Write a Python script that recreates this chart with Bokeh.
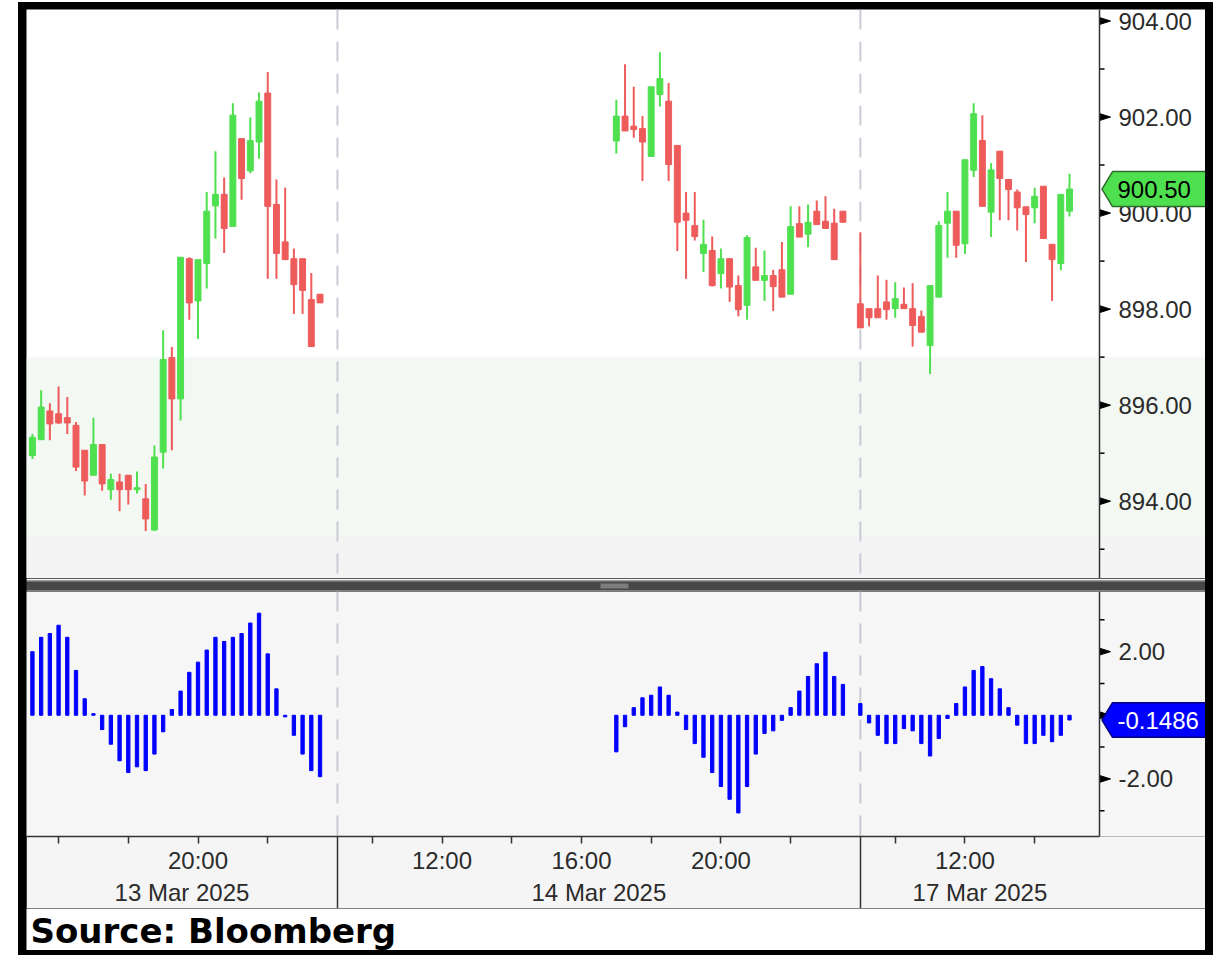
import numpy as np
from bokeh.plotting import figure
from bokeh.models import (ColumnDataSource, FixedTicker, LinearAxis, BoxAnnotation,
                          Span, Range1d, Label)
from bokeh.layouts import column
from bokeh.core.properties import value
from bokeh.embed import file_html
from bokeh.resources import INLINE

# ---------------- data ----------------
session_dates = ["13 Mar 2025", "14 Mar 2025", "17 Mar 2025"]
session_first_bar = ["15:15", "17:00", "09:00"]
day_start_hour = 9          # every day on the axis runs 09:00 - 24:00
day_end_hour = 24
bar_minutes = 15

open_13 = [894.95, 895.28, 895.88, 895.82, 895.74, 895.58, 895.06, 894.54, 895.18, 894.24,
           894.40, 894.54, 894.24, 894.05, 893.40, 895.02, 896.99, 896.13, 899.05, 898.17,
           898.95, 900.15, 900.39, 899.72, 901.55, 900.88, 901.48, 902.50, 900.18, 899.40,
           899.05, 899.05, 898.20, 898.31]
high_13 = [895.40, 896.31, 896.04, 896.39, 896.17, 895.65, 895.06, 895.74, 895.18, 894.57,
           894.57, 894.54, 894.62, 894.36, 895.16, 897.56, 897.21, 899.08, 899.08, 899.03,
           900.44, 901.29, 900.74, 902.29, 901.55, 901.99, 902.51, 902.94, 900.70, 900.53,
           899.26, 899.05, 898.75, 898.31]
low_13 = [894.88, 895.28, 895.27, 895.61, 895.40, 894.63, 894.12, 894.54, 894.22, 894.03,
          893.79, 893.93, 894.16, 893.38, 893.38, 894.68, 895.06, 895.68, 897.78, 897.38,
          898.43, 899.47, 899.17, 899.72, 900.28, 900.83, 901.13, 898.63, 898.63, 899.03,
          897.90, 897.90, 897.22, 898.13]
close_13 = [895.33, 895.96, 895.61, 895.63, 895.63, 894.71, 894.42, 895.18, 894.36, 894.45,
            894.24, 894.24, 894.28, 893.63, 894.92, 896.95, 896.13, 899.08, 898.13, 899.03,
            900.04, 900.39, 899.68, 902.04, 900.72, 901.51, 902.33, 900.14, 899.16, 899.03,
            898.51, 898.39, 897.22, 898.13]

open_14 = [901.50, 902.02, 901.81, 901.76, 901.18, 902.47, 902.33, 901.41, 900.00, 899.74,
           899.16, 899.22, 898.74, 899.05, 898.49, 898.08, 898.88, 898.60, 898.70, 898.82,
           898.31, 899.78, 899.56, 900.04, 899.83, 899.79, 900.04]
high_14 = [902.36, 903.10, 902.63, 902.02, 902.63, 903.35, 902.71, 901.41, 900.44, 900.44,
           899.86, 899.51, 899.26, 899.05, 898.70, 899.54, 899.28, 899.22, 898.82, 899.40,
           900.14, 900.14, 900.18, 900.26, 900.35, 900.09, 900.04]
low_14 = [901.24, 901.71, 901.57, 900.67, 901.18, 902.22, 900.67, 899.21, 898.63, 899.43,
          898.77, 898.47, 898.43, 898.15, 897.85, 897.78, 898.60, 898.17, 897.96, 898.25,
          898.31, 899.50, 899.29, 899.76, 899.68, 899.03, 899.81]
close_14 = [902.02, 901.71, 901.74, 901.48, 902.63, 902.80, 901.01, 899.81, 899.85, 899.51,
            899.35, 898.49, 899.05, 898.46, 897.99, 899.49, 898.60, 898.70, 898.47, 898.25,
            899.72, 899.50, 899.81, 899.76, 899.68, 899.03, 899.81]

open_17 = [898.11, 898.01, 898.01, 898.15, 898.01, 898.10, 898.01, 897.85, 897.24, 898.25,
           899.79, 900.04, 899.36, 900.89, 901.51, 900.02, 901.29, 900.70, 900.44, 900.13,
           900.11, 900.56, 899.35, 898.95, 900.04]
high_17 = [899.60, 898.01, 898.70, 898.61, 898.56, 898.45, 898.54, 897.97, 898.49, 899.83,
           900.44, 900.04, 901.11, 902.29, 902.04, 901.04, 901.29, 900.70, 900.49, 900.13,
           900.53, 900.56, 899.35, 900.39, 900.82]
low_17 = [897.61, 897.64, 897.82, 897.78, 897.82, 898.01, 897.22, 897.52, 896.65, 898.25,
          899.07, 899.07, 899.15, 900.75, 900.14, 899.50, 899.85, 899.85, 899.64, 898.98,
          899.79, 899.47, 898.17, 898.81, 899.93]
close_17 = [897.61, 897.82, 897.82, 897.99, 898.22, 898.01, 897.66, 897.52, 898.49, 899.74,
            900.04, 899.33, 901.11, 902.07, 900.14, 900.90, 900.72, 900.49, 900.11, 899.97,
            900.35, 899.47, 899.03, 900.39, 900.50]

hist_13 = [2.00, 2.45, 2.57, 2.83, 2.45, 1.41, 0.52, 0.05, -0.45, -0.91, -1.43, -1.80, -1.62,
           -1.74, -1.22, -0.52, 0.18, 0.76, 1.35, 1.67, 2.05, 2.45, 2.32, 2.45, 2.57, 2.90,
           3.21, 1.93, 0.83, -0.05, -0.63, -1.22, -1.74, -1.93]
hist_14 = [-1.15, -0.36, 0.24, 0.55, 0.63, 0.89, 0.63, 0.10, -0.45, -0.89, -1.32, -1.80,
           -2.24, -2.64, -3.07, -2.24, -1.22, -0.57, -0.49, -0.16, 0.24, 0.76, 1.22, 1.62,
           1.98, 1.22, 0.97]
hist_17 = [0.37, -0.24, -0.63, -0.89, -0.89, -0.42, -0.49, -0.89, -1.28, -0.73, -0.10, 0.37,
           0.89, 1.41, 1.53, 1.15, 0.83, 0.24, -0.31, -0.89, -0.89, -0.63, -0.83, -0.63,
           -0.1486]

price_ticks = [894, 896, 898, 900, 902, 904]
price_minor_ticks = [893, 895, 897, 899, 901, 903]
hist_ticks = [-2, 0, 2]
hist_minor_ticks = [-3, -1, 1, 3]
time_tick_hours = [10, 12, 14, 16, 18, 20, 22]
time_labels = [("13 Mar 2025", "20:00"), ("14 Mar 2025", "12:00"), ("14 Mar 2025", "16:00"),
               ("14 Mar 2025", "20:00"), ("17 Mar 2025", "12:00")]
shade_band = (893.3, 897.0)   # shaded price zone
source_text = "Source: Bloomberg"

# ---------------- helpers ----------------
hours_per_day = day_end_hour - day_start_hour


def axis_pos(day_idx, hh, mm=0):
    return day_idx * hours_per_day + (hh + mm / 60.0 - day_start_hour)


opens = [open_13, open_14, open_17]
highs = [high_13, high_14, high_17]
lows = [low_13, low_14, low_17]
closes = [close_13, close_14, close_17]
hists = [hist_13, hist_14, hist_17]

xs, O, H, L, C, HI = [], [], [], [], [], []
for di, first in enumerate(session_first_bar):
    hh, mm = map(int, first.split(":"))
    x0 = axis_pos(di, hh, mm)
    n = len(opens[di])
    xs += [x0 + k * bar_minutes / 60.0 for k in range(n)]
    O += opens[di]; H += highs[di]; L += lows[di]; C += closes[di]; HI += hists[di]

xs = np.array(xs); O = np.array(O); H = np.array(H); L = np.array(L); C = np.array(C)
HI = np.array(HI)
up = C >= O
GREEN = "#4fe04f"
RED = "#ee5b5b"
colors = np.where(up, GREEN, RED)

src = ColumnDataSource(dict(x=xs, o=O, h=H, l=L, c=C,
                            top=np.maximum(O, C), bot=np.minimum(O, C),
                            color=colors, hist=HI))

# view / layout settings
PANEL_W = 1179                      # width of the panels (frame covers value-axis strip too)
AXIS_STRIP = 106                    # width of value-axis strip at right
PX_PER_HOUR = 34.86
x_start = 6.08
x_end = x_start + PANEL_W / PX_PER_HOUR
ax_x = x_start + (PANEL_W - AXIS_STRIP) / PX_PER_HOUR   # position of value axis line
FONT = "Liberation Sans"
TXT = "#2b2b2b"
AX = "#333333"
DASH_COL = "#c9cad4"


def dx(px):
    return px / PX_PER_HOUR


def value_axis(p, y_lo, y_hi, frame_h, ticks, minor, fmt, tag_value, tag_text, tag_fill,
               tag_text_color, tag_line):
    ppu = frame_h / (y_hi - y_lo)

    def dy(px):
        return px / ppu

    p.add_layout(Span(location=ax_x, dimension="height", line_color=AX, line_width=1.5))
    tx = [[ax_x, ax_x, ax_x + dx(11)] for _ in ticks]
    ty = [[t + dy(3.5), t - dy(3.5), t] for t in ticks]
    p.patches(tx, ty, fill_color="black", line_color="black", line_width=1)
    p.segment(x0=[ax_x] * len(minor), y0=minor, x1=[ax_x + dx(5)] * len(minor), y1=minor,
              line_color="black", line_width=1.5)
    p.text(x=[ax_x + dx(19)] * len(ticks), y=ticks, text=[fmt % t for t in ticks],
           text_font=value(FONT), text_font_size=value("24px"), text_color=TXT,
           text_baseline="middle", text_align="left")
    # current-value tag
    px_ = [ax_x + dx(2.5), ax_x + dx(13), x_end + dx(3), x_end + dx(3), ax_x + dx(13)]
    py_ = [tag_value, tag_value + dy(17.5), tag_value + dy(17.5), tag_value - dy(17.5),
           tag_value - dy(17.5)]
    p.patch(px_, py_, fill_color=tag_fill, line_color=tag_line, line_width=1.5)
    p.text(x=[ax_x + dx(18)], y=[tag_value], text=[tag_text], text_font=value(FONT),
           text_font_size=value("24px"), text_color=tag_text_color, text_baseline="middle",
           text_align="left")


boundaries = [d * hours_per_day for d in range(1, len(session_dates))]

# ---------------- price panel ----------------
P1_H = 569
P1_Y = (892.39, 904.24)
p1 = figure(width=PANEL_W, height=P1_H, x_range=Range1d(x_start, x_end),
            y_range=Range1d(*P1_Y), output_backend="svg", toolbar_location=None,
            x_axis_location=None, y_axis_location=None, min_border=0,
            background_fill_color="white", border_fill_color="white", outline_line_color=None)
p1.grid.visible = False

p1.add_layout(BoxAnnotation(bottom=shade_band[0], top=shade_band[1], fill_color="#f3f8f3",
                            fill_alpha=1, line_color=None, level="underlay"))
p1.add_layout(BoxAnnotation(top=shade_band[0], fill_color="#f4f4f4", fill_alpha=1,
                            line_color=None, level="underlay"))
for b in boundaries:
    p1.add_layout(Span(location=b, dimension="height", line_color=DASH_COL, line_width=2,
                       line_dash="20 12", level="underlay"))

p1.segment(x0="x", y0="l", x1="x", y1="h", source=src, line_color="color", line_width=2)
p1.vbar(x="x", top="top", bottom="bot", width=0.17, source=src, fill_color="color",
        line_color="color", line_width=1)

last_close = float(C[-1])
value_axis(p1, P1_Y[0], P1_Y[1], P1_H, price_ticks, price_minor_ticks, "%.2f",
           last_close, f"{last_close:.2f}", "#4fe04f", "black", "#2d6b2d")

# ---------------- separator ----------------
sep = figure(width=PANEL_W, height=13, x_range=Range1d(0, PANEL_W), y_range=Range1d(0, 13),
             output_backend="svg", toolbar_location=None, x_axis_location=None,
             y_axis_location=None, min_border=0, background_fill_color="#474747",
             border_fill_color="#474747", outline_line_color=None)
sep.grid.visible = False
sep.add_layout(BoxAnnotation(bottom=11, fill_color="#f4f4f4", fill_alpha=1, line_color=None))
sep.add_layout(BoxAnnotation(bottom=10, top=11, fill_color="#9a9a9a", fill_alpha=1,
                             line_color=None))
sep.add_layout(BoxAnnotation(top=1, fill_color="#bdbdbd", fill_alpha=1, line_color=None))
sep.add_layout(BoxAnnotation(left=574, right=602, bottom=3, top=8, fill_color="#7d7d7d",
                             fill_alpha=1, line_color=None))

# ---------------- histogram panel ----------------
P2_FRAME_H = 247
P2_Y = (-3.81, 3.89)
XAX_H = 70
p2 = figure(width=PANEL_W, height=P2_FRAME_H + XAX_H, x_range=p1.x_range,
            y_range=Range1d(*P2_Y), output_backend="svg", toolbar_location=None,
            x_axis_location=None, y_axis_location=None, min_border_left=0,
            min_border_right=0, min_border_top=0, min_border_bottom=XAX_H,
            background_fill_color="#f6f6f6", border_fill_color="#f5f5f5",
            outline_line_color=None)
p2.grid.visible = False
for b in boundaries:
    p2.add_layout(Span(location=b, dimension="height", line_color=DASH_COL, line_width=2,
                       line_dash="20 12", level="underlay"))
p2.vbar(x="x", top="hist", bottom=0, width=0.095, source=src, fill_color="#0000ff",
        line_color="#0000ff")

last_hist = float(HI[-1])
value_axis(p2, P2_Y[0], P2_Y[1], P2_FRAME_H, hist_ticks, hist_minor_ticks, "%.2f",
           last_hist, f"{last_hist:.4f}", "#0000ff", "white", "#000080")

# time axis (2-hourly ticks)
time_ticks = []
for di in range(len(session_dates)):
    for hr in time_tick_hours:
        t = axis_pos(di, hr)
        if x_start < t < ax_x:
            time_ticks.append(t)
overrides = {t: "" for t in time_ticks}
for d, lab in time_labels:
    di = session_dates.index(d)
    hh, mm = map(int, lab.split(":"))
    overrides[axis_pos(di, hh, mm)] = lab

xax_time = LinearAxis(ticker=FixedTicker(ticks=time_ticks, minor_ticks=[]),
                      major_label_overrides=overrides, bounds=(x_start, ax_x))
xax_time.axis_line_color = AX
xax_time.axis_line_width = 1.5
xax_time.major_tick_out = 7
xax_time.major_tick_in = 0
xax_time.major_tick_line_color = AX
xax_time.major_tick_line_width = 1.5
xax_time.minor_tick_line_color = None
xax_time.major_label_standoff = 3
xax_time.major_label_text_font = FONT
xax_time.major_label_text_font_size = "24px"
xax_time.major_label_text_color = TXT
p2.add_layout(xax_time, "below")

# date axis (labels centred on each day's visible span)
date_pos = []
for di in range(len(session_dates)):
    lo = max(di * hours_per_day, x_start)
    hi = min((di + 1) * hours_per_day, ax_x)
    date_pos.append((lo + hi) / 2.0)
xax_date = LinearAxis(ticker=FixedTicker(ticks=date_pos, minor_ticks=[]),
                      major_label_overrides={p: d for p, d in zip(date_pos, session_dates)})
xax_date.axis_line_color = None
xax_date.major_tick_line_color = None
xax_date.minor_tick_line_color = None
xax_date.major_tick_out = 0
xax_date.major_tick_in = 0
xax_date.major_label_standoff = 2
xax_date.major_label_text_font = FONT
xax_date.major_label_text_font_size = "24px"
xax_date.major_label_text_color = TXT
p2.add_layout(xax_date, "below")

# day-boundary separators running through the date area
xax_days = LinearAxis(ticker=FixedTicker(ticks=boundaries, minor_ticks=[]),
                      major_label_overrides={b: "" for b in boundaries})
xax_days.axis_line_color = None
xax_days.major_tick_line_color = AX
xax_days.major_tick_line_width = 1.5
xax_days.minor_tick_line_color = None
xax_days.major_tick_out = 0
xax_days.major_tick_in = 72
xax_days.major_label_standoff = 0
xax_days.major_label_text_font_size = "1px"
p2.add_layout(xax_days, "below")

# ---------------- source line ----------------
p3 = figure(width=PANEL_W, height=42, x_range=Range1d(0, 1), y_range=Range1d(0, 1),
            output_backend="svg", toolbar_location=None, x_axis_location=None,
            y_axis_location=None, min_border=0, background_fill_color="white",
            border_fill_color="white", outline_line_color=None)
p3.grid.visible = False
p3.add_layout(Label(x=4, y=20, x_units="screen", y_units="screen", text=source_text,
                    text_font="DejaVu Sans", text_font_style="bold", text_font_size="34px",
                    text_color="black", text_baseline="middle", text_align="left"))

inner = column(p1, sep, p2, p3, spacing=0, margin=(7, 8, 5, 8))
layout = column(inner, spacing=0,
                styles={"background-color": "black", "margin": "2px 0px 0px 18px"})

open("out.html", "w").write(file_html(layout, INLINE))
